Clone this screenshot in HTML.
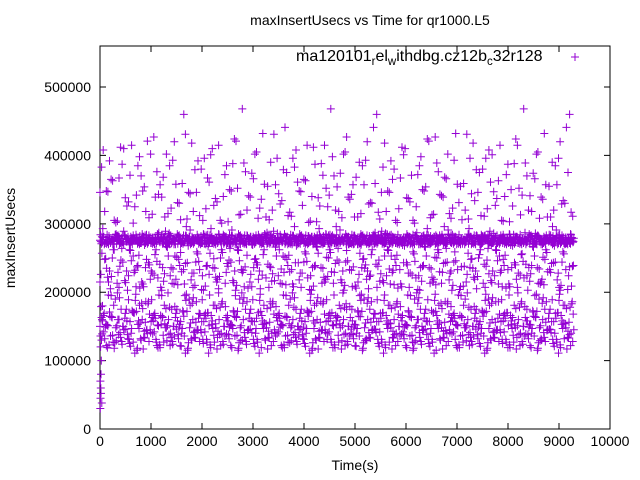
<!DOCTYPE html>
<html><head><meta charset="utf-8"><style>
body{margin:0;background:#fff}
svg{display:block;font-family:"Liberation Sans",sans-serif}
</style></head><body>
<svg id="chart" width="640" height="480">
<text x="370" y="25" font-size="14" text-anchor="middle">maxInsertUsecs vs Time for qr1000.L5</text>
<text x="355" y="470" font-size="14" text-anchor="middle">Time(s)</text>
<text transform="translate(15,238) rotate(-90)" font-size="14" text-anchor="middle">maxInsertUsecs</text>
<g id="legend">
<text x="296" y="61" font-size="16" text-anchor="start">ma120101<tspan font-size="11.5" dy="4">r</tspan><tspan dy="-4">el</tspan><tspan font-size="11.5" dy="4">w</tspan><tspan dy="-4">ithdbg.cz12b</tspan><tspan font-size="11.5" dy="4">c</tspan><tspan dy="-4">32r128</tspan></text>
<path d="M571 57h8M575 53v8" stroke="#9400d3" stroke-width="1"/>
</g>
<g id="axes"></g>
<g id="marks"></g>
</svg>
<script>
const xTicks=[0,1000,2000,3000,4000,5000,6000,7000,8000,9000,10000];
const yTicks=[0,100000,200000,300000,400000,500000];
const sampleStep=93;
const lowK=[150,132,171,118,160,145,189,127,153,176,140,163,122,195,148,134,169,157,111,181,143,128,166,151,137,199,124,158,147,172,130,186,141,162,119,154,178,136,149,165,126,192,145,131,170,158,117,183,139,152,164,129,175,146,121,188,155,133,168,142,196,127,160,150,138,173,115,184,144,157,131,166,148,122,179,153,136,190,141,162,125,170,147,134,186,158,119,163,151,128,175,140,197,132,156,145,169,123,181,138];
const midK=[215,248,231,262,207,289,224,253,239,212,276,228,245,203,267,236,219,258,242,291,210,233,271,226,249,205,284,238,217,262,229,254,208,243,279,221,236,266,213,251,230,296,218,244,272,209,257,235,223,282,247,214,261,232,206,269,240,225,287,216,253,234,211,274,243,228,259,204,238,293,222,250,213,264,231,246,208,277,236,219,255,241,227,286,212,248,233,268,207,256,224,239,281,215,262,229,244,203,270,237];
const highK=[346,318,392,305,367,410,332,301,385,348,421,314,376,339,402,323,358,306,431,344,379,312,396,361,327,415,340,303,388,352,468,320,374,405,336,310,390,357,329,441,317,383,348,365,302,412,338,371,325,398,354,309,427,343,368,315,393,331,359,307,418,346,380,322,401,337,305,372,350,424,313,389,341,366,308,432,355,320,396,334,375,311,408,347,363,304,387,326,415,342,370,318,402,339,357,310,385,420,330,460];
const bandK=[276,272,279,274,281,270,277,283,273,278,271,280,275,284,272,277,279,270,282,274,276,273,281,278,271,285,274,277,272,280,276,283,270,279,275,281,273,278,284,271,277,274,280,272,282,276,279,270,275,283,273,278,281,271,277,285,274,279,272,276,282,270,278,275,280,273,284,277,271,279,274,281,276,272,283,278,270,275,280,273,277,282,271,279,274,284,276,272,280,278,273,281,275,270,277,283,274,279,276,272];
const earlyT=[5,10,15,20,25,30,40,50,20,35,8,12];
const earlyK=[30,45,60,80,100,130,160,180,52,38,70,120];

const X0=100,X1=610,Y0=429,Y1=46;
const xs=v=>X0+(v/10000)*(X1-X0);
const ys=v=>Y0-(v/560000)*(Y0-Y1);
const NS="http://www.w3.org/2000/svg";
const axes=document.getElementById('axes'),marks=document.getElementById('marks');
function mk(tag,attrs,parent){const e=document.createElementNS(NS,tag);for(const k in attrs)e.setAttribute(k,attrs[k]);parent.appendChild(e);return e;}
const frame=mk('rect',{x:X0,y:Y1,width:X1-X0,height:Y0-Y1,fill:'none',stroke:'#000'},axes);


xTicks.forEach(t=>{const x=xs(t);
 const l=mk('path',{d:`M${x} ${Y0}v-6M${x} ${Y1}v6`,stroke:'#000'},axes);
 
 
 const tx=mk('text',{x:x,y:Y0+17,'font-size':14,'text-anchor':'middle'},axes);tx.textContent=t;
 
 });
yTicks.forEach(t=>{const y=ys(t);
 const l=mk('path',{d:`M${X0} ${y}h6M${X1} ${y}h-6`,stroke:'#000'},axes);
 
 
 const tx=mk('text',{x:X0-9,y:y+5,'font-size':14,'text-anchor':'end'},axes);tx.textContent=t;
 
 });
let d='';
function plus(t,v,w){const x=xs(t),y=ys(v);d+=`M${(x-w).toFixed(1)} ${y.toFixed(1)}h${2*w}M${x.toFixed(1)} ${(y-w).toFixed(1)}v${2*w}`;}
function layer(arr,copies,shiftStep,w){
 for(let c=0;c<copies;c++){const off=c*shiftStep;
  arr.forEach((v,i)=>{const t=i*sampleStep+(c*sampleStep/copies);if(t<=9300)plus(t,arr[(i+off)%arr.length]*1000,w);});}
}
layer(lowK,9,37,4);
layer(midK,5,23,4);
layer(highK,3,41,4);
layer(bandK,10,13,4);
earlyK.forEach((v,i)=>plus(earlyT[i],v*1000,4));
const p=mk('path',{d:d,stroke:'#9400d3','stroke-width':1,fill:'none'},marks);


</script>
</body></html>
